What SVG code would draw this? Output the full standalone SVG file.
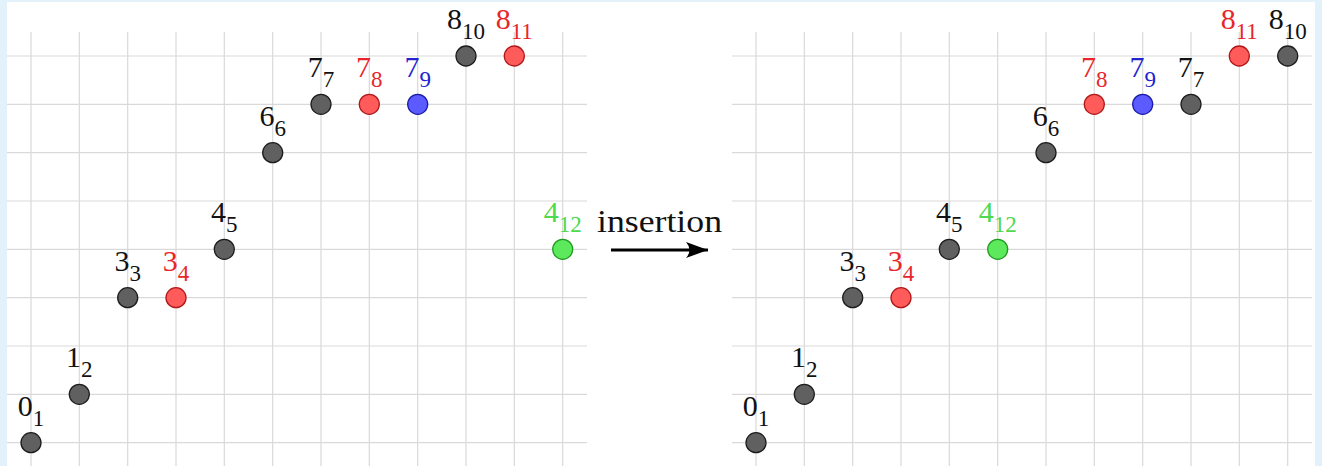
<svg xmlns="http://www.w3.org/2000/svg" width="1322" height="466" viewBox="0 0 1322 466">
<style>
.grid line{stroke:#d9d9d9;stroke-width:1.2}
.lbl{font-family:"Liberation Serif","DejaVu Serif",serif;font-size:30px;text-anchor:middle}
.sub{font-size:23px}
.k{fill:#111}
.r{fill:#e8262a}
.b{fill:#2323cf}
.g{fill:#4ed94e}
.nk{fill:#606060;stroke:#1c1c1c;stroke-width:1.3}
.nr{fill:#ff5b5b;stroke:#b01818;stroke-width:1.3}
.nb{fill:#5b5bff;stroke:#1a1aa8;stroke-width:1.3}
.ng{fill:#5cea5c;stroke:#1f9a1f;stroke-width:1.3}
.ins{font-family:"Liberation Serif","DejaVu Serif",serif;font-size:31px;fill:#111}
</style>
<defs>
<marker id="ah" markerUnits="userSpaceOnUse" markerWidth="26" markerHeight="20" refX="23" refY="10" orient="auto">
<path d="M23,10 L1,2 Q8,10 1,18 Z" fill="#000"/>
</marker>
</defs>
<rect x="0" y="0" width="1322" height="466" fill="#e2f1fa"/>
<rect x="7" y="2" width="1308" height="464" fill="#ffffff"/>

<g class="grid" id="grid-left">
<line x1="31" y1="32" x2="31" y2="466"/><line x1="79.3" y1="32" x2="79.3" y2="466"/><line x1="127.7" y1="32" x2="127.7" y2="466"/><line x1="176" y1="32" x2="176" y2="466"/><line x1="224.3" y1="32" x2="224.3" y2="466"/><line x1="272.7" y1="32" x2="272.7" y2="466"/><line x1="321" y1="32" x2="321" y2="466"/><line x1="369.3" y1="32" x2="369.3" y2="466"/><line x1="417.7" y1="32" x2="417.7" y2="466"/><line x1="466" y1="32" x2="466" y2="466"/><line x1="514.3" y1="32" x2="514.3" y2="466"/><line x1="562.7" y1="32" x2="562.7" y2="466"/>
<line x1="7" y1="56" x2="587" y2="56"/><line x1="7" y1="104.3" x2="587" y2="104.3"/><line x1="7" y1="152.7" x2="587" y2="152.7"/><line x1="7" y1="201" x2="587" y2="201"/><line x1="7" y1="249.3" x2="587" y2="249.3"/><line x1="7" y1="297.7" x2="587" y2="297.7"/><line x1="7" y1="346" x2="587" y2="346"/><line x1="7" y1="394.3" x2="587" y2="394.3"/><line x1="7" y1="442.7" x2="587" y2="442.7"/>
</g>
<g class="grid" id="grid-right">
<line x1="756" y1="32" x2="756" y2="466"/><line x1="804.3" y1="32" x2="804.3" y2="466"/><line x1="852.7" y1="32" x2="852.7" y2="466"/><line x1="901" y1="32" x2="901" y2="466"/><line x1="949.3" y1="32" x2="949.3" y2="466"/><line x1="997.7" y1="32" x2="997.7" y2="466"/><line x1="1046" y1="32" x2="1046" y2="466"/><line x1="1094.3" y1="32" x2="1094.3" y2="466"/><line x1="1142.7" y1="32" x2="1142.7" y2="466"/><line x1="1191" y1="32" x2="1191" y2="466"/><line x1="1239.3" y1="32" x2="1239.3" y2="466"/><line x1="1287.7" y1="32" x2="1287.7" y2="466"/>
<line x1="732" y1="56" x2="1312" y2="56"/><line x1="732" y1="104.3" x2="1312" y2="104.3"/><line x1="732" y1="152.7" x2="1312" y2="152.7"/><line x1="732" y1="201" x2="1312" y2="201"/><line x1="732" y1="249.3" x2="1312" y2="249.3"/><line x1="732" y1="297.7" x2="1312" y2="297.7"/><line x1="732" y1="346" x2="1312" y2="346"/><line x1="732" y1="394.3" x2="1312" y2="394.3"/><line x1="732" y1="442.7" x2="1312" y2="442.7"/>
</g>

<!-- left graph -->
<g id="L0_1"><circle class="nk" cx="31" cy="442.7" r="10"/><text class="lbl k" x="31" y="415.7">0<tspan class="sub" dy="10">1</tspan></text></g>
<g id="L1_2"><circle class="nk" cx="79.3" cy="394.3" r="10"/><text class="lbl k" x="79.3" y="367.3">1<tspan class="sub" dy="10">2</tspan></text></g>
<g id="L3_3"><circle class="nk" cx="127.7" cy="297.7" r="10"/><text class="lbl k" x="127.7" y="270.7">3<tspan class="sub" dy="10">3</tspan></text></g>
<g id="L3_4"><circle class="nr" cx="176" cy="297.7" r="10"/><text class="lbl r" x="176" y="270.7">3<tspan class="sub" dy="10">4</tspan></text></g>
<g id="L4_5"><circle class="nk" cx="224.3" cy="249.3" r="10"/><text class="lbl k" x="224.3" y="222.3">4<tspan class="sub" dy="10">5</tspan></text></g>
<g id="L6_6"><circle class="nk" cx="272.7" cy="152.7" r="10"/><text class="lbl k" x="272.7" y="125.7">6<tspan class="sub" dy="10">6</tspan></text></g>
<g id="L7_7"><circle class="nk" cx="321" cy="104.3" r="10"/><text class="lbl k" x="321" y="77.3">7<tspan class="sub" dy="10">7</tspan></text></g>
<g id="L7_8"><circle class="nr" cx="369.3" cy="104.3" r="10"/><text class="lbl r" x="369.3" y="77.3">7<tspan class="sub" dy="10">8</tspan></text></g>
<g id="L7_9"><circle class="nb" cx="417.7" cy="104.3" r="10"/><text class="lbl b" x="417.7" y="77.3">7<tspan class="sub" dy="10">9</tspan></text></g>
<g id="L8_10"><circle class="nk" cx="466" cy="56" r="10"/><text class="lbl k" x="466" y="29">8<tspan class="sub" dy="10">10</tspan></text></g>
<g id="L8_11"><circle class="nr" cx="514.3" cy="56" r="10"/><text class="lbl r" x="514.3" y="29">8<tspan class="sub" dy="10">11</tspan></text></g>
<g id="L4_12"><circle class="ng" cx="562.7" cy="249.3" r="10"/><text class="lbl g" x="562.7" y="222.3">4<tspan class="sub" dy="10">12</tspan></text></g>

<!-- right graph -->
<g id="R0_1"><circle class="nk" cx="756" cy="442.7" r="10"/><text class="lbl k" x="756" y="415.7">0<tspan class="sub" dy="10">1</tspan></text></g>
<g id="R1_2"><circle class="nk" cx="804.3" cy="394.3" r="10"/><text class="lbl k" x="804.3" y="367.3">1<tspan class="sub" dy="10">2</tspan></text></g>
<g id="R3_3"><circle class="nk" cx="852.7" cy="297.7" r="10"/><text class="lbl k" x="852.7" y="270.7">3<tspan class="sub" dy="10">3</tspan></text></g>
<g id="R3_4"><circle class="nr" cx="901" cy="297.7" r="10"/><text class="lbl r" x="901" y="270.7">3<tspan class="sub" dy="10">4</tspan></text></g>
<g id="R4_5"><circle class="nk" cx="949.3" cy="249.3" r="10"/><text class="lbl k" x="949.3" y="222.3">4<tspan class="sub" dy="10">5</tspan></text></g>
<g id="R4_12"><circle class="ng" cx="997.7" cy="249.3" r="10"/><text class="lbl g" x="997.7" y="222.3">4<tspan class="sub" dy="10">12</tspan></text></g>
<g id="R6_6"><circle class="nk" cx="1046" cy="152.7" r="10"/><text class="lbl k" x="1046" y="125.7">6<tspan class="sub" dy="10">6</tspan></text></g>
<g id="R7_8"><circle class="nr" cx="1094.3" cy="104.3" r="10"/><text class="lbl r" x="1094.3" y="77.3">7<tspan class="sub" dy="10">8</tspan></text></g>
<g id="R7_9"><circle class="nb" cx="1142.7" cy="104.3" r="10"/><text class="lbl b" x="1142.7" y="77.3">7<tspan class="sub" dy="10">9</tspan></text></g>
<g id="R7_7"><circle class="nk" cx="1191" cy="104.3" r="10"/><text class="lbl k" x="1191" y="77.3">7<tspan class="sub" dy="10">7</tspan></text></g>
<g id="R8_11"><circle class="nr" cx="1239.3" cy="56" r="10"/><text class="lbl r" x="1239.3" y="29">8<tspan class="sub" dy="10">11</tspan></text></g>
<g id="R8_10"><circle class="nk" cx="1287.7" cy="56" r="10"/><text class="lbl k" x="1287.7" y="29">8<tspan class="sub" dy="10">10</tspan></text></g>

<g id="connectors">
<line x1="611" y1="250" x2="708" y2="250" stroke="#000" stroke-width="3" marker-end="url(#ah)"/>
<text class="ins" x="597" y="231.7" textLength="125" lengthAdjust="spacingAndGlyphs">insertion</text>
</g>
</svg>
